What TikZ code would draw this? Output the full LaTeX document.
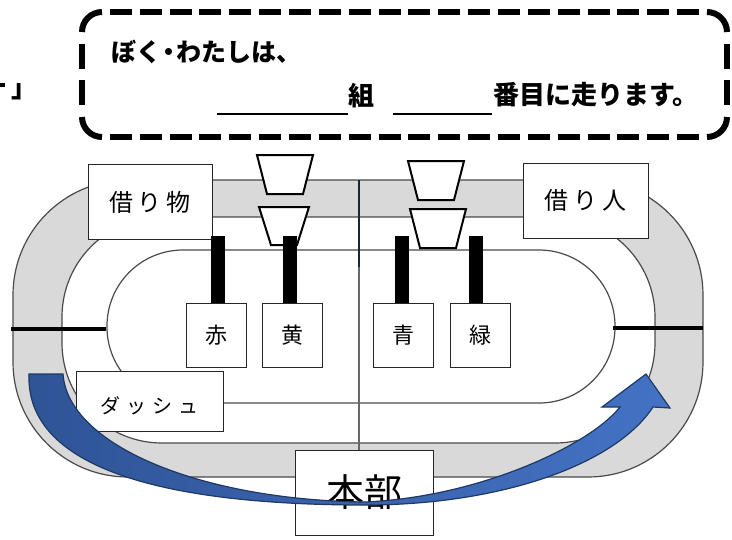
\documentclass[tikz,border=0pt]{standalone}
\usepackage{fontspec}
\newfontfamily\jp{Noto Sans CJK JP}
\definecolor{band}{HTML}{D9D9D9}
\definecolor{trkline}{HTML}{4A4A4A}
\definecolor{arrowA}{HTML}{2F5496}
\definecolor{arrowB}{HTML}{4472C4}
\definecolor{arrowline}{HTML}{1F3864}
\definecolor{navyline}{HTML}{1C2538}
\begin{document}
\begin{tikzpicture}[x=1pt,y=-1pt,
  trk/.style={draw=trkline, line width=1.2pt},
  lbl/.style={draw=black!85, fill=white, line width=0.9pt, inner sep=0pt, outer sep=0pt},
  bigbox/.style={lbl, minimum width=124pt, minimum height=75pt, font=\jp\fontsize{24}{24}\selectfont},
  colbox/.style={lbl, minimum width=60pt, minimum height=64pt, font=\jp\fontsize{22}{22}\selectfont},
  cup/.style={draw=black, fill=white, line width=2pt, line join=miter},
  barline/.style={line width=14pt, black},
  lanemark/.style={line width=4pt, black},
  cedge/.style={line width=6pt, black},
  ccorner/.style={line width=6pt, black, rounded corners=20pt},
  bigtext/.style={inner sep=0pt, font=\jp\bfseries\fontsize{25}{25}\selectfont},
  bigtextb/.style={inner sep=0pt, font=\jp\bfseries\fontsize{26}{26}\selectfont}
]
\useasboundingbox (0,0) rectangle (732,539);

% track
\draw[trk, fill=band, rounded corners=115pt] (13,180) rectangle (703,477);
\draw[trk, fill=white, rounded corners=100pt] (62,217) rectangle (655,443);
\draw[trk, rounded corners=76pt] (107,250) rectangle (615,403);

% lane marks
\draw[lanemark] (11,329) -- (106,329);
\draw[lanemark] (613,328) -- (703,328);

% boxes
\node[bigbox] (mono) at (150,202) {借\hspace{5pt}り\hspace{5pt}物};
\node[bigbox, minimum width=125pt] (hito) at (585.5,200.5) {借\hspace{5pt}り\hspace{5pt}人};

% cups
\draw[cup] (257,155) -- (313,155) -- (303,194) -- (267,194) -- cycle;
\draw[cup] (259,207) -- (309,207) -- (297,245) -- (271,245) -- cycle;
\draw[cup] (408,161) -- (464,161) -- (454,200) -- (418,200) -- cycle;
\draw[cup] (410,209) -- (466,209) -- (456,248) -- (420,248) -- cycle;

% bars
\draw[barline] (218,236) -- (218,305);
\draw[barline] (290,236) -- (290,305);
\draw[barline] (401.5,236) -- (401.5,305);
\draw[barline] (475.5,236) -- (475.5,305);

\node[colbox] (aka) at (216,335) {赤};
\node[colbox] (ki) at (292,335) {黄};
\node[colbox] (ao) at (403,335) {青};
\node[colbox] (midori) at (480,335) {緑};

\node[lbl, minimum width=147pt, minimum height=60pt, text height=27pt, text depth=1.8pt, font=\jp\fontsize{20}{20}\selectfont] (dash) at (149.5,401) {ダ\hspace{6pt}ッ\hspace{6pt}シ\hspace{6pt}ュ};

\node[lbl, minimum width=138pt, minimum height=85pt, font=\jp\fontsize{38}{38}\selectfont] (honbu) at (364,492.5) {本部};

% center line
\coordinate (cl) at (359,267);
\draw[line width=2.5pt, navyline] (359,180) -- (cl);
\draw[line width=1.3pt, black!60] (cl) -- (cl |- honbu.north);

% arrow
\draw[arrowline, line width=1.2pt, left color=arrowA, right color=arrowB, line join=miter]
  (29,374) .. controls (25,480) and (200,505) .. (365,505)
  .. controls (500,505) and (615,465) .. (653,407)
  -- (670,408) -- (646,374) -- (602,407) -- (620,407)
  .. controls (590,445) and (480,497) .. (365,502)
  .. controls (200,500) and (68,445) .. (63,374) -- cycle;

% callout frame: solid corners, dashed sides
\draw[ccorner] (82,32) -- (82,12) -- (102,12);
\draw[ccorner] (707,12) -- (727,12) -- (727,32);
\draw[ccorner] (727,117) -- (727,137) -- (707,137);
\draw[ccorner] (102,137) -- (82,137) -- (82,117);
\draw[cedge, dash pattern=on 22pt off 7.86pt, dash phase=22pt] (102,12) -- (707,12);
\draw[cedge, dash pattern=on 22pt off 7.86pt, dash phase=22pt] (102,137) -- (707,137);
\draw[cedge, dash pattern=on 25pt off 11.67pt, dash phase=25pt] (82,32) -- (82,117);
\draw[cedge, dash pattern=on 25pt off 11.67pt, dash phase=25pt] (727,32) -- (727,117);

\node[bigtext, anchor=west] (l1) at (111,52) {ぼく\hspace{-5pt}・\hspace{-5pt}わたしは、};
\coordinate (u1a) at (217,114);
\coordinate (u1b) at (348,114);
\coordinate (u2a) at (393,114);
\coordinate (u2b) at (492,114);
\draw[line width=2pt] (u1a) -- (u1b);
\draw[line width=2pt] (u2a) -- (u2b);
\node[bigtextb] (kumi) at (361,95.5) {組};
\node[bigtextb, anchor=west] (l2) at (493,95) {番目に走ります。};

% clipped text at left edge
\fill (0,83) rectangle (5,87);
\node[bigtextb, anchor=center] (kakko) at (24,92) {」};
\end{tikzpicture}
\end{document}
